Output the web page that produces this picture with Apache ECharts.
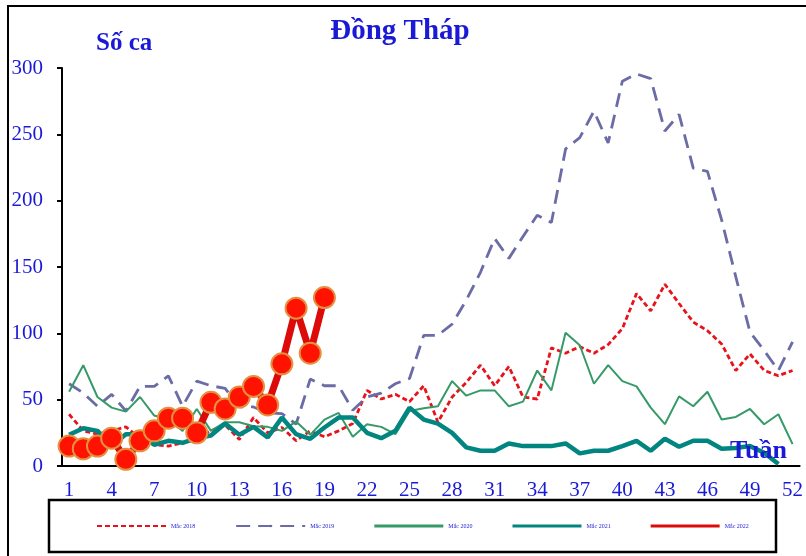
<!DOCTYPE html>
<html>
<head>
<meta charset="utf-8">
<script src="https://cdn.jsdelivr.net/npm/echarts@6/dist/echarts.min.js"></script>
<style>
  html, body { margin: 0; padding: 0; background: #fff; }
  #chart { width: 806px; height: 556px; }
</style>
</head>
<body>
<div id="chart"></div>
<script>
// tuần 1..52
const weeks = ['1','2','3','4','5','6','7','8','9','10','11','12','13','14','15','16','17','18','19','20',
  '21','22','23','24','25','26','27','28','29','30','31','32','33','34','35','36','37','38','39','40',
  '41','42','43','44','45','46','47','48','49','50','51','52']

const cases2018 = [39, 26.5, 24, 26.5, 29.5, 21, 16, 15, 17.5, 21, 26.5, 31, 20, 36.5, 25, 29, 19, 26.5, 22, 26.5,
  32, 57, 50.5, 54, 48.5, 60.5, 33, 52, 63, 76, 60.5, 75, 52, 50.5, 89, 85, 90, 85, 91.5, 103.5,
  130, 117, 137, 122.5, 108.5, 102, 92, 72, 84.5, 72, 68, 72]
const cases2019 = [62, 55, 45, 54, 41.5, 60, 60, 68, 45, 64, 60.5, 58.5, 44.5, 44.5, 40, 39.5, 31.5, 65.5, 60.5, 60.5,
  42, 52, 55, 62, 66, 98.5, 98.5, 107, 125, 146, 171.5, 156.5, 173, 189, 183.5, 239, 247.5, 267.5, 243.5, 290,
  295.5, 292, 252.5, 265, 224.5, 222, 185.5, 142.5, 101, 87, 72, 93.5]
const cases2020 = [56, 76, 52, 44, 41, 52, 38, 35, 26.5, 43, 26.5, 33, 33, 30, 29.5, 26.5, 33.5, 23.5, 35, 40,
  22, 31.5, 29.5, 24, 41.5, 43.5, 45, 64, 53, 57, 57, 45, 48.5, 72, 57, 100.5, 91, 62, 76, 64,
  60, 44, 31.5, 52.5, 45, 56, 35, 37, 43, 31.5, 39, 16.5]
const cases2021 = [23.5, 28.5, 26.5, 15, 24, 24, 16, 19, 17.5, 21, 23, 32, 23.5, 29.5, 21.5, 36.5, 24, 20.5, 29, 36.5,
  36.5, 25, 21, 26.5, 44, 35, 32, 25, 14, 11.5, 11.5, 17, 15, 15, 15, 17, 9.5, 11.5, 11.5, 15,
  19, 11.5, 20.5, 14.5, 19, 19, 13, 13.5, 15, 10, 1.5, null]
const cases2022 = [15, 13, 15, 21, 5, 19, 26.5, 36, 36, 25, 48, 43, 52, 60, 46, 77, 119, 85, 127]

const yTicks = [0, 50, 100, 150, 200, 250, 300]

const blue = '#1a1ad6'
const serif = 'Liberation Serif, Times New Roman, serif'

const chart = echarts.init(document.getElementById('chart'))

chart.setOption({
  animation: false,
  backgroundColor: '#fff',
  title: [
    { text: 'Đồng Tháp', left: 395, top: 12, textAlign: 'center',
      textStyle: { fontFamily: serif, fontSize: 29, fontWeight: 'bold', color: blue } },
    { text: 'Số ca', left: 91, top: 26,
      textStyle: { fontFamily: serif, fontSize: 25, fontWeight: 'bold', color: blue } },
    { text: 'Tuần', left: 725, top: 433,
      textStyle: { fontFamily: serif, fontSize: 26, fontWeight: 'bold', color: blue } }
  ],
  graphic: [
    // khung ngoài
    { type: 'rect', shape: { x: 8, y: 6, width: 820, height: 570 }, silent: true,
      style: { fill: 'none', stroke: '#000', lineWidth: 2 } },
    // khung chú thích
    { type: 'rect', shape: { x: 49, y: 500, width: 727, height: 52 }, silent: true,
      style: { fill: 'none', stroke: '#000', lineWidth: 2.5 } }
  ],
  legend: {
    left: 96, top: 523, padding: 0,
    itemWidth: 69, itemHeight: 3, itemGap: 40,
    textStyle: { fontFamily: serif, fontSize: 6, color: blue },
    data: [
      { name: 'Mắc 2018' },
      { name: 'Mắc 2019' },
      { name: 'Mắc 2020', icon: 'rect' },
      { name: 'Mắc 2021', icon: 'rect' },
      { name: 'Mắc 2022', icon: 'rect', itemStyle: { color: '#dd0a0a', borderWidth: 0 } }
    ]
  },
  grid: { left: 62, right: 1, top: 68, bottom: 90 },
  xAxis: {
    type: 'category',
    data: weeks,
    boundaryGap: true,
    axisLine: { lineStyle: { color: '#000', width: 2 } },
    axisTick: { interval: 0, length: 5, lineStyle: { color: '#000', width: 2 } },
    axisLabel: { interval: 2, margin: 14, fontFamily: serif, fontSize: 21, color: blue }
  },
  yAxis: {
    type: 'value',
    min: yTicks[0], max: yTicks[yTicks.length - 1], interval: 50,
    splitLine: { show: false },
    axisLine: { show: true, lineStyle: { color: '#000', width: 2 } },
    axisTick: { show: true, length: 5, lineStyle: { color: '#000', width: 2 } },
    axisLabel: { margin: 19, fontFamily: serif, fontSize: 21, color: blue }
  },
  series: [
    {
      name: 'Mắc 2018', type: 'line', data: cases2018, symbol: 'none', z: 2,
      lineStyle: { color: '#e8121a', width: 2.8, type: [5, 3] },
      itemStyle: { color: '#e8121a' }
    },
    {
      name: 'Mắc 2019', type: 'line', data: cases2019, symbol: 'none', z: 2,
      lineStyle: { color: '#6b6ba6', width: 2.8, type: [14, 8] },
      itemStyle: { color: '#6b6ba6' }
    },
    {
      name: 'Mắc 2020', type: 'line', data: cases2020, symbol: 'none', z: 3,
      lineStyle: { color: '#359a68', width: 2 },
      itemStyle: { color: '#359a68' }
    },
    {
      name: 'Mắc 2021', type: 'line', data: cases2021, symbol: 'none', z: 4,
      lineStyle: { color: '#008580', width: 4.5 },
      itemStyle: { color: '#008580' }
    },
    {
      name: 'Mắc 2022', type: 'line', data: cases2022, z: 5,
      symbol: 'circle', symbolSize: 21, showAllSymbol: true,
      lineStyle: { color: '#dd0a0a', width: 7 },
      itemStyle: { color: '#ff1200', borderColor: '#e39040', borderWidth: 2 }
    }
  ]
})
</script>
</body>
</html>
